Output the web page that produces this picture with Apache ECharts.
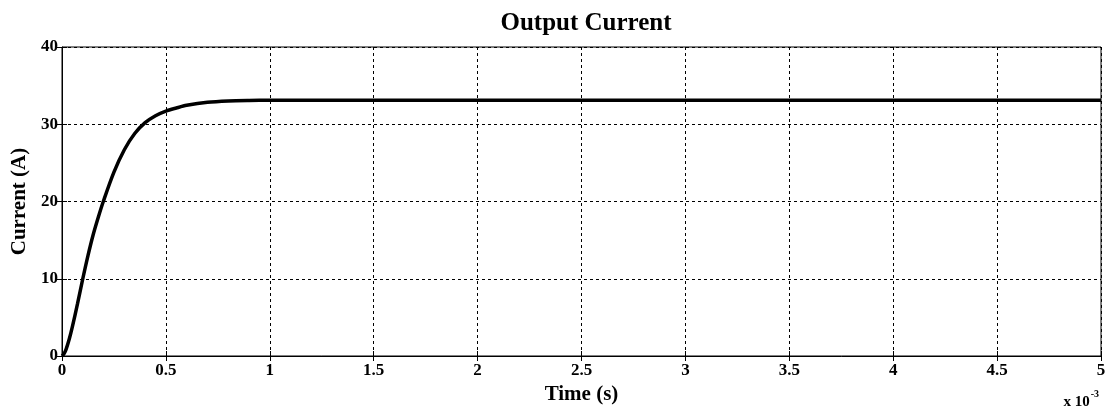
<!DOCTYPE html>
<html>
<head>
<meta charset="utf-8">
<script src="https://cdn.jsdelivr.net/npm/echarts@6/dist/echarts.min.js"></script>
<style>
  html, body { margin: 0; padding: 0; background: #fff; }
  #chart { width: 1111px; height: 412px; }
</style>
</head>
<body>
<div id="chart"></div>
<script>
// time in units of 1e-3 s, current in A
const timeMs = [0, 0.01, 0.02, 0.035, 0.05, 0.075, 0.1, 0.125, 0.15, 0.175, 0.2, 0.25, 0.3, 0.35, 0.4, 0.45, 0.5, 0.55, 0.6, 0.7, 0.8, 0.9, 1.0, 1.5, 2, 2.5, 3, 3.5, 4, 4.5, 5];
const current = [0, 0.3, 0.9, 2.2, 3.8, 6.8, 10, 13, 15.7, 18, 20.1, 23.8, 26.7, 28.8, 30.2, 31.1, 31.7, 32.1, 32.45, 32.85, 33.02, 33.08, 33.1, 33.1, 33.1, 33.1, 33.1, 33.1, 33.1, 33.1, 33.1];
const xTicks = ['0', '0.5', '1', '1.5', '2', '2.5', '3', '3.5', '4', '4.5', '5'];

const font = 'Liberation Serif';
const points = timeMs.map((t, i) => [t, current[i]]);

const chart = echarts.init(document.getElementById('chart'));
chart.setOption({
    backgroundColor: '#fff',
    animation: false,
    title: {
        text: 'Output Current',
        left: 581,
        textAlign: 'center',
        top: 6,
        textStyle: {fontFamily: font, fontWeight: 'bold', fontSize: 25, color: '#000'}
    },
    grid: {
        left: 62, right: 10, top: 47, bottom: 56,
        show: true, borderColor: '#000', borderWidth: 1
    },
    xAxis: [{
        type: 'value', min: 0, max: 5, interval: 0.5,
        name: 'Time (s)', nameLocation: 'middle', nameGap: 27,
        nameTextStyle: {fontFamily: font, fontWeight: 'bold', fontSize: 21, color: '#000'},
        axisLine: {lineStyle: {color: '#000'}},
        axisTick: {inside: true, length: 5, lineStyle: {color: '#000'}},
        axisLabel: {
            fontFamily: font, fontWeight: 'bold', fontSize: 17, color: '#000', margin: 6,
            formatter: (v) => xTicks[Math.round(v / 0.5)]
        },
        splitLine: {lineStyle: {color: '#000', type: [3, 3], width: 1}}
    }, {
        type: 'value', min: 0, max: 5, interval: 0.5, position: 'top',
        axisLine: {show: false},
        axisTick: {inside: true, length: 5, lineStyle: {color: '#000'}},
        axisLabel: {show: false},
        splitLine: {show: false}
    }],
    yAxis: [{
        type: 'value', min: 0, max: 40, interval: 10,
        name: 'Current (A)', nameLocation: 'middle', nameGap: 30,
        nameTextStyle: {fontFamily: font, fontWeight: 'bold', fontSize: 21, color: '#000'},
        axisLine: {show: true, lineStyle: {color: '#000'}},
        axisTick: {show: true, inside: true, length: 5, lineStyle: {color: '#000'}},
        axisLabel: {fontFamily: font, fontWeight: 'bold', fontSize: 17, color: '#000', margin: 4},
        splitLine: {lineStyle: {color: '#000', type: [3, 3], width: 1}}
    }, {
        type: 'value', min: 0, max: 40, interval: 10, position: 'right',
        axisLine: {show: false},
        axisTick: {show: true, inside: true, length: 5, lineStyle: {color: '#000'}},
        axisLabel: {show: false},
        splitLine: {show: false}
    }],
    graphic: [{
        type: 'text', right: 12, bottom: 2,
        style: {
            text: '{b|x 10}{s|-3}',
            rich: {
                b: {fontFamily: font, fontWeight: 'bold', fontSize: 15, fill: '#000', verticalAlign: 'bottom'},
                s: {fontFamily: font, fontWeight: 'bold', fontSize: 10, fill: '#000', padding: [0, 0, 11, 1]}
            }
        }
    }],
    series: [{
        type: 'line',
        data: points,
        showSymbol: false,
        smooth: 0.3,
        lineStyle: {color: '#000', width: 3.5}
    }]
});
</script>
</body>
</html>
